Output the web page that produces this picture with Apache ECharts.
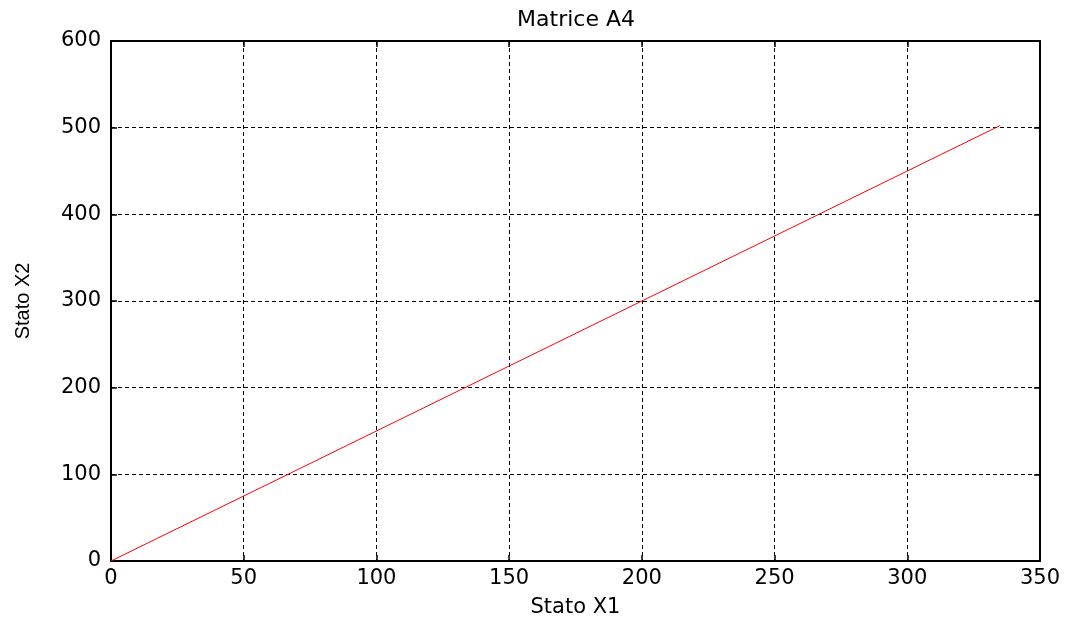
<!DOCTYPE html>
<html>
<head>
<meta charset="utf-8">
<script src="https://cdn.jsdelivr.net/npm/echarts@6/dist/echarts.min.js"></script>
<style>
  html, body { margin: 0; padding: 0; background: #fff; }
  #main { width: 1076px; height: 623px; }
</style>
</head>
<body>
<div id="main"></div>
<script>
const stateX1 = [0, 335];
const stateX2 = [0, 502.5];
const xTicks = [0, 50, 100, 150, 200, 250, 300, 350];
const yTicks = [0, 100, 200, 300, 400, 500, 600];

const chart = echarts.init(document.getElementById('main'));
const font = 'DejaVu Sans, Arial, sans-serif';

const baseX = {
    type: 'value',
    min: 0,
    max: 350,
    interval: 50,
    axisLine: { show: true, onZero: false, lineStyle: { color: '#000', width: 2 } },
    axisTick: { show: true, inside: true, length: 6, lineStyle: { color: '#000', width: 1.5 } },
    splitLine: { show: false }
};
const baseY = {
    type: 'value',
    min: 0,
    max: 600,
    interval: 100,
    axisLine: { show: true, onZero: false, lineStyle: { color: '#000', width: 2 } },
    axisTick: { show: true, inside: true, length: 6, lineStyle: { color: '#000', width: 1.5 } },
    splitLine: { show: false }
};

option = {
    animation: false,
    backgroundColor: '#fff',
    title: {
        text: 'Matrice A4',
        left: 571,
        textAlign: 'center',
        top: 4,
        textStyle: { fontFamily: font, fontSize: 22, fontWeight: 'normal', color: '#000' }
    },
    grid: { left: 111, right: 36, top: 41, bottom: 61 },
    xAxis: [
        Object.assign({}, baseX, {
            position: 'bottom',
            name: 'Stato X1',
            nameLocation: 'middle',
            nameGap: 36,
            nameTextStyle: { fontFamily: font, fontSize: 21, color: '#000' },
            axisLabel: {
                fontFamily: font, fontSize: 21, color: '#000', margin: 7,
                formatter: (v) => xTicks.includes(v) ? String(v) : ''
            },
            splitLine: { show: true, lineStyle: { color: '#000', type: [4, 3], width: 1 } }
        }),
        Object.assign({}, baseX, { position: 'top', axisLabel: { show: false } })
    ],
    yAxis: [
        Object.assign({}, baseY, {
            position: 'left',
            name: 'Stato X2',
            nameLocation: 'middle',
            nameGap: 78,
            nameTextStyle: { fontFamily: 'Liberation Sans, Arial, sans-serif', fontSize: 20, color: '#000' },
            axisLabel: {
                fontFamily: font, fontSize: 21, color: '#000', margin: 10,
                formatter: (v) => yTicks.includes(v) ? String(v) : ''
            },
            splitLine: { show: true, lineStyle: { color: '#000', type: [4, 3], width: 1 } }
        }),
        Object.assign({}, baseY, { position: 'right', axisLabel: { show: false } })
    ],
    series: [
        {
            type: 'line',
            data: stateX1.map((x, i) => [x, stateX2[i]]),
            showSymbol: false,
            lineStyle: { color: '#ff0000', width: 1 },
            itemStyle: { color: '#ff0000' }
        }
    ]
};

chart.setOption(option);
</script>
</body>
</html>
